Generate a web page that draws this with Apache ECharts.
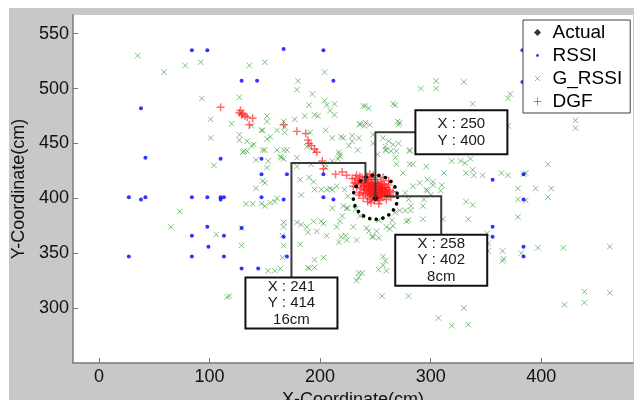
<!DOCTYPE html>
<html>
<head>
<meta charset="utf-8">
<script src="https://cdn.jsdelivr.net/npm/echarts@6/dist/echarts.min.js"></script>
<style>
  html, body { margin: 0; padding: 0; background: #fff; }
  #frame { position: absolute; left: 9px; top: 8px; width: 625px; height: 392px; background: #c8c8c8; }
  #main { position: absolute; left: 0; top: 0; width: 634px; height: 400px; }
</style>
</head>
<body>
<div id="frame"></div>
<div id="main"></div>
<script>
// tick labels
var xTicks = [0, 100, 200, 300, 400]
var yTicks = [300, 350, 400, 450, 500, 550]

// true position
var actualData = [[250, 400]]
// dotted circle round the true position: x, y, radius (cm)
var circleData = [[250, 401, 20]]

// raw RSSI estimates
var rssiData = [
  [84, 535], [98, 535], [38, 482], [129, 507], [143, 507], [42, 437], [110, 436], [147, 436],
  [147, 422], [167, 536], [203, 535], [212, 507], [170, 422], [203, 422], [383, 535], [383, 506],
  [356, 417], [384, 422], [27, 401], [38, 399], [42, 401], [84, 401], [98, 401], [110, 401],
  [110, 399], [113, 401], [147, 401], [98, 374], [84, 366], [113, 366], [99, 356], [27, 347],
  [84, 347], [113, 347], [129, 336], [144, 336], [129, 373], [167, 399], [203, 401], [212, 399],
  [167, 365], [170, 347], [384, 399], [356, 374], [356, 365], [384, 356], [384, 347]
]

// Gaussian filtered RSSI estimates
var gRssiData = [
  [35, 530], [59, 515], [78, 521], [92, 524], [136, 521], [93, 491], [127, 492], [101, 472],
  [120, 468], [138, 466], [147, 462], [101, 455], [127, 458], [127, 453], [134, 452], [138, 448],
  [130, 442], [134, 443], [142, 435], [148, 444], [104, 430], [148, 416], [142, 409],
  [150, 524], [204, 515], [180, 507], [179, 499], [193, 495], [190, 485], [204, 489], [206, 485],
  [213, 486], [209, 480], [213, 476], [152, 475], [152, 470], [167, 470], [177, 472], [186, 475],
  [195, 476], [198, 475], [241, 484], [244, 482], [266, 486], [268, 485], [291, 500], [305, 507],
  [305, 500], [155, 456], [152, 454], [168, 460], [168, 465], [191, 460], [205, 462], [211, 455],
  [219, 456], [229, 452], [236, 468], [240, 466], [245, 467], [235, 455], [226, 448], [234, 444],
  [248, 450], [257, 455], [259, 447], [260, 444], [264, 443], [269, 443], [268, 437], [270, 470],
  [271, 467], [281, 443], [284, 431], [312, 423], [297, 417], [302, 412], [310, 412], [150, 444],
  [161, 444], [167, 444], [164, 438], [167, 436], [179, 437], [188, 447], [195, 443], [217, 442],
  [218, 440], [211, 434], [216, 436], [152, 428], [179, 429], [192, 431], [205, 431], [205, 428],
  [150, 414], [182, 417], [190, 419], [194, 415], [209, 409],
  [330, 506], [338, 486], [370, 491], [372, 495], [370, 466], [431, 471], [431, 464], [319, 434],
  [327, 434], [331, 432], [336, 436], [338, 426], [332, 423], [339, 421], [347, 421], [364, 423],
  [370, 421], [386, 423], [406, 431], [379, 409], [395, 409], [409, 409], [384, 422],
  [133, 395], [139, 395], [147, 395], [73, 388], [65, 374], [106, 367], [129, 373], [129, 357],
  [116, 310], [118, 311],
  [150, 393], [155, 396], [159, 397], [161, 400], [183, 403], [195, 408], [201, 408], [206, 408],
  [211, 408], [167, 378], [167, 374], [179, 378], [183, 376], [188, 374], [194, 379], [201, 379],
  [189, 369], [197, 370], [182, 358], [206, 366], [217, 360], [223, 366], [224, 362], [233, 362],
  [242, 373], [247, 365], [251, 370], [253, 364], [263, 372], [266, 375], [278, 379], [268, 387],
  [272, 389], [277, 389], [282, 389], [282, 393], [293, 393], [294, 399], [297, 407], [309, 407],
  [311, 381], [293, 381], [221, 393], [224, 391], [211, 391], [218, 379], [257, 347], [259, 343],
  [260, 334], [253, 335], [195, 344], [203, 346], [189, 337], [195, 337], [235, 332], [235, 328],
  [233, 325], [256, 311], [280, 311], [307, 291], [153, 334], [159, 334], [164, 336], [166, 346],
  [406, 401], [379, 399], [386, 398], [332, 397], [338, 394], [334, 381], [379, 383], [351, 368],
  [352, 359], [352, 352], [365, 352], [366, 345], [382, 350], [397, 355], [420, 355], [462, 356],
  [439, 315], [462, 314], [421, 303], [439, 305], [330, 300], [334, 285], [319, 284],
  [190, 336], [238, 332], [257, 339], [365, 343],
  [161, 462], [148, 462], [140, 449], [131, 443], [170, 444], [153, 434], [165, 437], [166, 366],
  [167, 357], [203, 377], [215, 374], [219, 365], [230, 374], [244, 370], [248, 365], [253, 380],
  [265, 380], [260, 374], [280, 380], [280, 399], [277, 405], [284, 411], [296, 408], [290, 414],
  [302, 415], [300, 403], [215, 411], [222, 408], [225, 402], [225, 391], [220, 384], [236, 384],
  [232, 390], [218, 438], [221, 455], [229, 457], [236, 467], [241, 469], [239, 484], [262, 452],
  [266, 449], [271, 450], [259, 444], [248, 458], [252, 440], [269, 431], [275, 423], [281, 444],
  [281, 431], [296, 429], [272, 469]
]

// DGF estimates
var dgfData = [
  [110, 483], [128, 480], [127, 478], [129, 476], [130, 477], [132, 475], [134, 474], [139, 473],
  [136, 467], [167, 467], [179, 461], [187, 459], [189, 453], [190, 450], [192, 448], [195, 445],
  [197, 442], [202, 434], [203, 427], [214, 422], [220, 424], [224, 421], [229, 418], [230, 411],
  [236, 405],
  [232, 418], [234, 414], [236, 420], [238, 416], [239, 411], [240, 408], [241, 414], [241, 404],
  [242, 419], [243, 410], [243, 402], [244, 406], [244, 415], [245, 399], [245, 411], [246, 404],
  [246, 408], [247, 417], [247, 401], [248, 405], [248, 411], [249, 398], [249, 408], [250, 403],
  [250, 414], [251, 406], [251, 410], [252, 400], [252, 417], [253, 404], [253, 408], [254, 412],
  [254, 398], [255, 405], [255, 415], [256, 402], [257, 409], [258, 402], [258, 413], [259, 406],
  [260, 399], [260, 410], [261, 404], [262, 412], [263, 407], [264, 401], [237, 409], [239, 400],
  [246, 396], [253, 395], [257, 419], [262, 416], [248, 421], [243, 397], [266, 406], [235, 403],
  [250, 408], [247, 412], [256, 406], [244, 409],
  [233, 421], [235, 416], [237, 413], [238, 419], [240, 411], [240, 416], [242, 407], [242, 413],
  [243, 417], [244, 412], [245, 403], [245, 407], [246, 413], [246, 419], [247, 406], [247, 409],
  [248, 402], [248, 414], [249, 404], [249, 411], [250, 406], [250, 411], [251, 401], [251, 404],
  [252, 407], [252, 413], [253, 401], [253, 411], [254, 405], [254, 408], [255, 402], [255, 410],
  [256, 409], [256, 413], [257, 404], [258, 407], [259, 410], [260, 403], [261, 408], [262, 405],
  [231, 414], [233, 410], [239, 405], [241, 417], [243, 420], [245, 422]
]

// data tips
var tipX = [250, 241, 258]
var tipY = [400, 414, 402]
var tipErr = ['', '16cm', '8cm']

// where each tip box sits relative to its point (px): box centre, box size, elbow height
var tipLayout = [
  { dx: 86, dy: -66, w: 92, h: 44, ey: -66 },
  { dx: -74, dy: 120, w: 92, h: 51, ey: -20 },
  { dx: 57, dy: 64, w: 92, h: 51, ey: 0 }
]

var FONT = '"Liberation Sans", Arial, sans-serif'
var AXIS_GREY = '#7a7a7a'

var myChart = echarts.init(document.getElementById('main'), null, { renderer: 'canvas' })

function renderCircle(params, api) {
  var c = api.coord([api.value(0), api.value(1)])
  var r = api.size([api.value(2), 0])[0]
  return {
    type: 'circle',
    shape: { cx: c[0], cy: c[1], r: r },
    style: { fill: 'none', stroke: '#000', lineWidth: 3.6, lineDash: [0.1, 6.6], lineCap: 'round' },
  }
}

function renderTip(params, api) {
  var i = params.dataIndex
  var p = api.coord([api.value(0), api.value(1)])
  var L = tipLayout[i]
  var bx = p[0] + L.dx
  var by = p[1] + L.dy
  var ey = p[1] + L.ey
  var lines = ['X : ' + tipX[i], 'Y : ' + tipY[i]]
  if (tipErr[i]) lines.push(tipErr[i])
  var children = [
    {
      type: 'polyline',
      shape: { points: [p, [p[0], ey], [bx, ey], [bx, by]] },
      style: { fill: 'none', stroke: '#3a3a3a', lineWidth: 2 },
    },
    {
      type: 'rect',
      shape: { x: bx - L.w / 2, y: by - L.h / 2, width: L.w, height: L.h },
      style: { fill: '#fff', stroke: '#111', lineWidth: 2 },
    },
  ]
  var lh = 16.5
  var y0 = by - (lines.length - 1) * lh / 2
  lines.forEach(function (t, k) {
    children.push({
      type: 'text',
      style: {
        text: t, x: bx, y: y0 + k * lh,
        align: 'center', verticalAlign: 'middle',
        fontSize: 15, fontFamily: FONT, fill: '#1a1a1a',
      },
    })
  })
  return { type: 'group', children: children }
}

var option = {
  animation: false,
  backgroundColor: 'transparent',
  grid: {
    show: true, left: 73, right: 1, top: 15, bottom: 37,
    outerBoundsMode: 'none',
    containLabel: false,
    backgroundColor: '#fff', borderWidth: 0,
  },
  legend: {
    orient: 'vertical',
    left: 523, top: 20,
    padding: [3, 8, 2, 7],
    itemGap: 4,
    itemWidth: 20,
    itemHeight: 14,
    backgroundColor: '#fff',
    borderColor: '#404040',
    borderWidth: 1,
    borderRadius: 0,
    textStyle: { fontSize: 19, fontFamily: FONT, color: '#000' },
    itemStyle: { borderWidth: 1 },
    data: [
      { name: 'Actual', icon: 'path://M0,0M20,20M10,5L15,10L10,15L5,10Z' },
      { name: 'RSSI', icon: 'path://M0,0M20,20M8,10A2,2,0,1,0,12,10A2,2,0,1,0,8,10Z' },
      { name: 'G_RSSI', icon: 'path://M0,0M20,20M6.5,6.5L13.5,13.5M13.5,6.5L6.5,13.5' },
      { name: 'DGF', icon: 'path://M0,0M20,20M10,4.5L10,15.5M4.5,10L15.5,10' },
    ],
  },
  xAxis: {
    type: 'value',
    min: -23.5, max: 483,
    name: 'X-Coordinate(cm)',
    nameLocation: 'middle',
    nameGap: 25,
    nameTextStyle: { fontSize: 18, fontFamily: FONT, color: '#111' },
    axisLine: { onZero: false, lineStyle: { color: AXIS_GREY, width: 1.5 } },
    axisTick: { inside: true, length: 5, customValues: xTicks, lineStyle: { color: AXIS_GREY } },
    axisLabel: { customValues: xTicks, margin: 5, fontSize: 18, fontFamily: FONT, color: '#111' },
    splitLine: { show: false },
  },
  yAxis: {
    type: 'value',
    min: 250, max: 567,
    name: 'Y-Coordinate(cm)',
    nameLocation: 'middle',
    nameGap: 42,
    nameTextStyle: { fontSize: 18, fontFamily: FONT, color: '#111' },
    axisLine: { onZero: false, lineStyle: { color: AXIS_GREY, width: 1.5 } },
    axisTick: { inside: true, length: 5, customValues: yTicks, lineStyle: { color: AXIS_GREY } },
    axisLabel: { customValues: yTicks, margin: 4, fontSize: 18, fontFamily: FONT, color: '#111' },
    splitLine: { show: false },
  },
  series: [
    {
      name: 'G_RSSI',
      type: 'scatter',
      z: 2,
      symbol: 'path://M0,0L10,10M10,0L0,10',
      symbolSize: 5.5,
      itemStyle: { color: 'rgba(0,0,0,0)', borderColor: 'rgba(45,150,45,0.75)', borderWidth: 1 },
      data: gRssiData,
    },
    {
      name: 'RSSI',
      type: 'scatter',
      z: 3,
      symbol: 'circle',
      symbolSize: 4,
      itemStyle: { color: '#0000ff' },
      data: rssiData,
    },
    {
      name: 'DGF',
      type: 'scatter',
      z: 4,
      symbol: 'path://M5,0L5,10M0,5L10,5',
      symbolSize: 8,
      itemStyle: { color: 'rgba(0,0,0,0)', borderColor: 'rgba(255,20,20,0.8)', borderWidth: 1.4 },
      data: dgfData,
    },
    {
      name: 'circle',
      type: 'custom',
      z: 5,
      renderItem: renderCircle,
      encode: { x: 0, y: 1 },
      data: circleData,
    },
    {
      name: 'Actual',
      type: 'scatter',
      z: 6,
      symbol: 'diamond',
      symbolSize: 7,
      itemStyle: { color: '#000' },
      data: actualData,
    },
    {
      name: 'tips',
      type: 'custom',
      z: 7,
      renderItem: renderTip,
      encode: { x: 0, y: 1 },
      data: tipX.map(function (x, i) { return [x, tipY[i]] }),
    },
  ],
}

myChart.setOption(option)
</script>
</body>
</html>
